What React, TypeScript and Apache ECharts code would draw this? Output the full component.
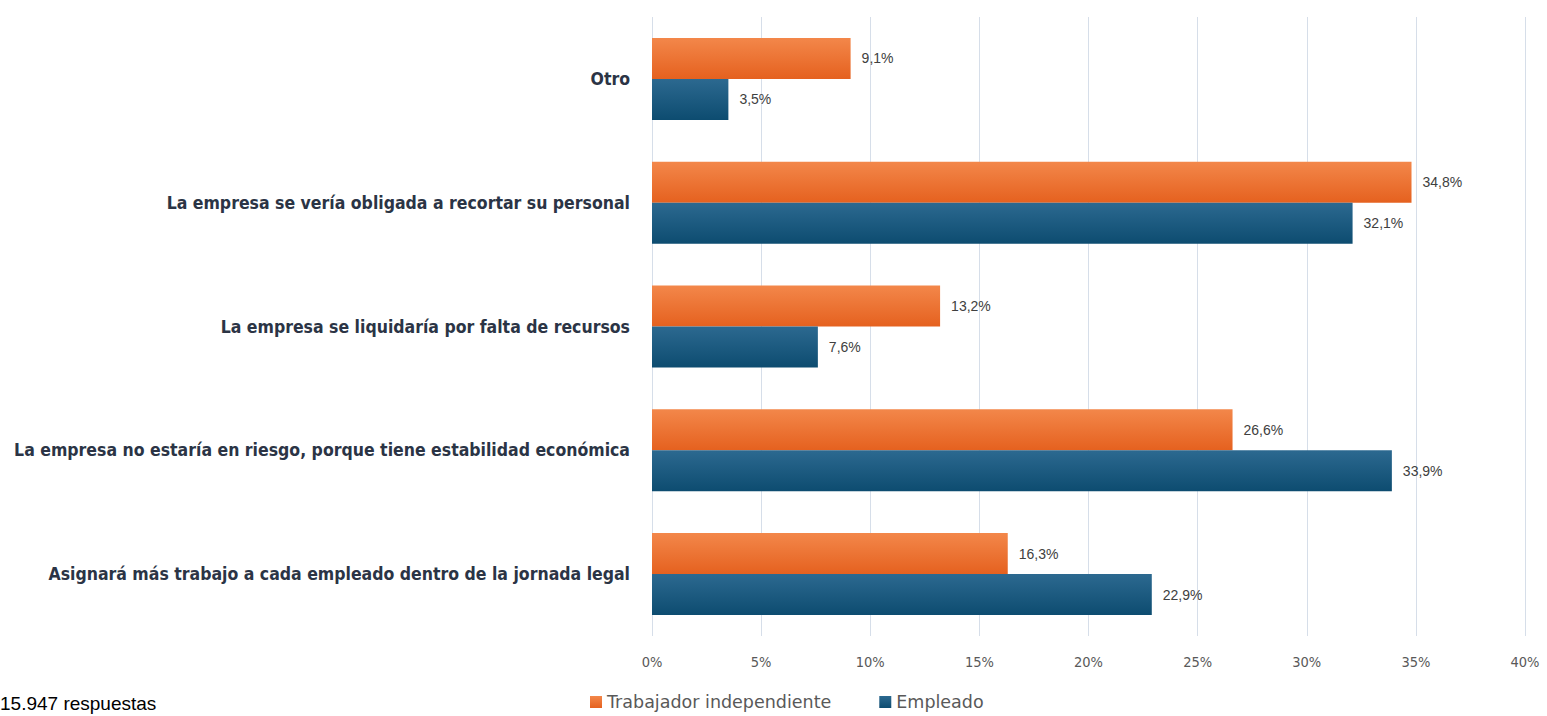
import React, { useEffect, useRef } from "react";
import * as echarts from "echarts";

const categories = [
  "Asignará más trabajo a cada empleado dentro de la jornada legal",
  "La empresa no estaría en riesgo, porque tiene estabilidad económica",
  "La empresa se liquidaría por falta de recursos",
  "La empresa se vería obligada a recortar su personal",
  "Otro",
];
const independiente = [16.3, 26.6, 13.2, 34.8, 9.1];
const empleado = [22.9, 33.9, 7.6, 32.1, 3.5];
const seriesNames = ["Trabajador independiente", "Empleado"];
const xTicks = [0, 5, 10, 15, 20, 25, 30, 35, 40];
const footnote = "15.947 respuestas";

const fmt = (v: number) => v.toFixed(1).replace(".", ",") + "%";

export default function App() {
  const ref = useRef<HTMLDivElement>(null);
  useEffect(() => {
    if (!ref.current) return;
    const chart = echarts.init(ref.current, null, { renderer: "svg" });
    const orange = new echarts.graphic.LinearGradient(0, 0, 0, 1, [
      { offset: 0, color: "#F3874A" },
      { offset: 1, color: "#E5611F" },
    ]);
    const blue = new echarts.graphic.LinearGradient(0, 0, 0, 1, [
      { offset: 0, color: "#2C6990" },
      { offset: 1, color: "#0D4C70" },
    ]);
    const label = {
      show: true,
      position: "right",
      distance: 11,
      color: "#404040",
      fontFamily: "Liberation Sans, Arial, sans-serif",
      fontSize: 14,
      formatter: (p: any) => fmt(p.value),
    };
    chart.setOption({
      animation: false,
      backgroundColor: "#ffffff",
      grid: { left: 652, right: 22, top: 17, bottom: 80, containLabel: false },
      legend: {
        data: seriesNames,
        bottom: 0,
        left: 585,
        itemWidth: 12,
        itemHeight: 12,
        itemGap: 48,
        icon: "rect",
        textStyle: {
          color: "#595959",
          fontSize: 17.5,
          fontFamily: "DejaVu Sans, sans-serif",
        },
      },
      xAxis: {
        type: "value",
        min: xTicks[0],
        max: xTicks[xTicks.length - 1],
        interval: 5,
        axisLine: { show: false },
        axisTick: { show: false },
        splitLine: { show: true, lineStyle: { color: "#D6DEE9", width: 1 } },
        axisLabel: {
          formatter: (v: number) => v + "%",
          color: "#595959",
          fontSize: 14.5,
          margin: 18,
          fontFamily: "DejaVu Sans Condensed, sans-serif",
        },
      },
      yAxis: {
        type: "category",
        data: categories,
        axisLine: { show: false },
        axisTick: { show: false },
        axisLabel: {
          color: "#2B3445",
          fontSize: 17.5,
          fontWeight: "bold",
          margin: 22,
          fontFamily: "DejaVu Sans Condensed, sans-serif",
        },
      },
      series: [
        {
          name: seriesNames[0],
          type: "bar",
          data: independiente,
          barWidth: 41,
          barGap: "0%",
          itemStyle: { color: orange },
          label,
        },
        {
          name: seriesNames[1],
          type: "bar",
          data: empleado,
          barWidth: 41,
          barGap: "0%",
          itemStyle: { color: blue },
          label,
        },
      ],
      graphic: [
        {
          type: "text",
          left: 0,
          top: 694,
          style: {
            text: footnote,
            fill: "#000000",
            font: "19px Liberation Sans, Arial, sans-serif",
          },
        },
      ],
    });
    return () => chart.dispose();
  }, []);
  return (
    <div
      ref={ref}
      style={{ position: "fixed", left: 0, top: 0, width: 1547, height: 716 }}
    />
  );
}
